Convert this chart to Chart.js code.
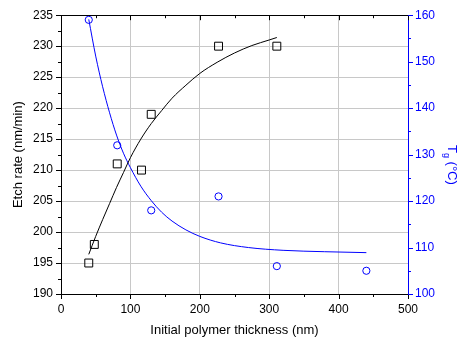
<!DOCTYPE html>
<html>
<head>
<meta charset="utf-8">
<script src="https://cdn.jsdelivr.net/npm/chart.js@4.4.1/dist/chart.umd.min.js"></script>
<style>
  html, body { margin: 0; padding: 0; background: #fff; }
  #wrap { width: 459px; height: 340px; }
</style>
</head>
<body>
<div id="wrap"><canvas id="chart"></canvas></div>
<script>
// etch rate measurements (squares, left axis)
const etchX = [40, 48, 81, 116, 130, 227, 311];
const etchY = [195, 198, 211, 210, 219, 230, 230];

// Tg measurements (circles, right axis)
const tgX = [40, 81, 130, 227, 311, 440];
const tgY = [159, 132, 118, 121, 106, 105];

// fitted curves
const etchFitX = [40, 50, 60, 70, 80, 90, 100, 115, 130, 145, 160, 180, 200, 225, 250, 275, 300, 311];
const etchFitY = [196.4, 199.3, 202.0, 204.6, 207.2, 209.6, 212.0, 215.0, 217.5, 219.6, 221.6, 223.7, 225.6, 227.4, 228.9, 230.1, 231.0, 231.4];
const tgFitX = [40, 50, 60, 70, 80, 90, 100, 115, 130, 145, 160, 180, 200, 230, 270, 320, 380, 440];
const tgFitY = [159.1, 151.2, 144.6, 139.0, 134.2, 130.3, 127.2, 123.2, 120.1, 117.6, 115.7, 113.8, 112.4, 111.0, 110.0, 109.4, 109.1, 108.9];

// tick values
const xTicks = [0, 100, 200, 300, 400, 500];
const leftTicks = [190, 195, 200, 205, 210, 215, 220, 225, 230, 235];
const rightTicks = [100, 110, 120, 130, 140, 150, 160];

const BLUE = '#0000ff';
const pts = (xs, ys) => xs.map((x, i) => ({ x: x, y: ys[i] }));
const setTicks = arr => scale => { scale.ticks = arr.map(v => ({ value: v })); };

Chart.defaults.font.family = '"Liberation Sans", Arial, sans-serif';
Chart.defaults.font.size = 12;
Chart.defaults.color = '#000';

// small ticks (major + minor) and the top frame line
const tickMarks = {
    id: 'tickMarks',
    afterDraw(chart) {
        const { ctx, chartArea: a, scales } = chart;
        const px = v => Math.round(v) + 0.5;
        const seg = (x1, y1, x2, y2) => { ctx.beginPath(); ctx.moveTo(x1, y1); ctx.lineTo(x2, y2); ctx.stroke(); };
        const withMinor = arr => {
            const out = [];
            arr.forEach((v, i) => {
                out.push([v, true]);
                if (i < arr.length - 1) out.push([(v + arr[i + 1]) / 2, false]);
            });
            return out;
        };
        ctx.save();
        ctx.lineWidth = 1;
        ctx.strokeStyle = '#000';
        seg(a.left, px(a.top), a.right, px(a.top));
        withMinor(xTicks).forEach(([v, major]) => {
            const x = px(scales.x.getPixelForValue(v));
            const len = major ? 5 : 3;
            seg(x, a.bottom, x, a.bottom + len);
            seg(x, a.top, x, a.top + len);
        });
        withMinor(leftTicks).forEach(([v, major]) => {
            const y = px(scales.y.getPixelForValue(v));
            seg(a.left, y, a.left - (major ? 5 : 3), y);
        });
        ctx.strokeStyle = BLUE;
        withMinor(rightTicks).forEach(([v, major]) => {
            const y = px(scales.y2.getPixelForValue(v));
            seg(a.right, y, a.right + (major ? 5 : 3), y);
        });

        // right axis title: T with subscript g, rotated
        ctx.fillStyle = BLUE;
        ctx.translate(448, 145);
        ctx.rotate(Math.PI / 2);
        ctx.textBaseline = 'alphabetic';
        ctx.textAlign = 'left';
        ctx.font = '13px "Liberation Sans", Arial, sans-serif';
        ctx.fillText('T', 0, 0);
        let w = ctx.measureText('T').width;
        ctx.font = '9px "Liberation Sans", Arial, sans-serif';
        ctx.fillText('g', w, 4);
        w += ctx.measureText('g').width;
        ctx.font = '13px "Liberation Sans", Arial, sans-serif';
        ctx.fillText(' (°C)', w, 0);
        ctx.restore();
    }
};

new Chart(document.getElementById('chart'), {
    type: 'scatter',
    data: {
        datasets: [
            {
                data: pts(etchX, etchY),
                yAxisID: 'y',
                pointStyle: 'rect',
                pointRadius: 5.6,
                borderColor: '#000',
                backgroundColor: 'rgba(0,0,0,0)',
                borderWidth: 1,
                clip: false
            },
            {
                data: pts(tgX, tgY),
                yAxisID: 'y2',
                pointStyle: 'circle',
                pointRadius: 3.6,
                borderColor: BLUE,
                backgroundColor: 'rgba(0,0,0,0)',
                borderWidth: 1,
                clip: false
            },
            {
                type: 'line',
                data: pts(etchFitX, etchFitY),
                yAxisID: 'y',
                borderColor: '#000',
                borderWidth: 1,
                pointRadius: 0,
                cubicInterpolationMode: 'monotone',
                fill: false
            },
            {
                type: 'line',
                data: pts(tgFitX, tgFitY),
                yAxisID: 'y2',
                borderColor: BLUE,
                borderWidth: 1,
                pointRadius: 0,
                cubicInterpolationMode: 'monotone',
                fill: false
            }
        ]
    },
    options: {
        responsive: true,
        maintainAspectRatio: false,
        animation: false,
        layout: { padding: { top: 13, left: 0, right: 0, bottom: 0 } },
        plugins: { legend: { display: false }, tooltip: { enabled: false } },
        scales: {
            x: {
                type: 'linear',
                min: 0, max: 500,
                afterBuildTicks: setTicks(xTicks),
                afterFit: s => { s.height = 46; },
                ticks: { padding: 8, maxRotation: 0, autoSkip: false },
                grid: { color: '#c8c8c8', drawTicks: false },
                border: { color: '#000', width: 1 },
                title: { display: true, text: 'Initial polymer thickness (nm)', font: { size: 13 }, padding: { top: 0, bottom: 2 } }
            },
            y: {
                type: 'linear',
                position: 'left',
                min: 190, max: 235,
                afterBuildTicks: setTicks(leftTicks),
                afterFit: s => { s.width = 61; },
                ticks: { padding: 8, autoSkip: false },
                grid: { color: '#c8c8c8', drawTicks: false },
                border: { color: '#000', width: 1 },
                title: { display: true, text: 'Etch rate (nm/min)', font: { size: 13 }, padding: { top: 11, bottom: 0 } }
            },
            y2: {
                type: 'linear',
                position: 'right',
                min: 100, max: 160,
                afterBuildTicks: setTicks(rightTicks),
                afterFit: s => { s.width = 51; },
                ticks: { padding: 7, color: BLUE, autoSkip: false },
                grid: { drawOnChartArea: false, drawTicks: false },
                border: { color: BLUE, width: 1 }
            }
        }
    },
    plugins: [tickMarks]
});
</script>
</body>
</html>
